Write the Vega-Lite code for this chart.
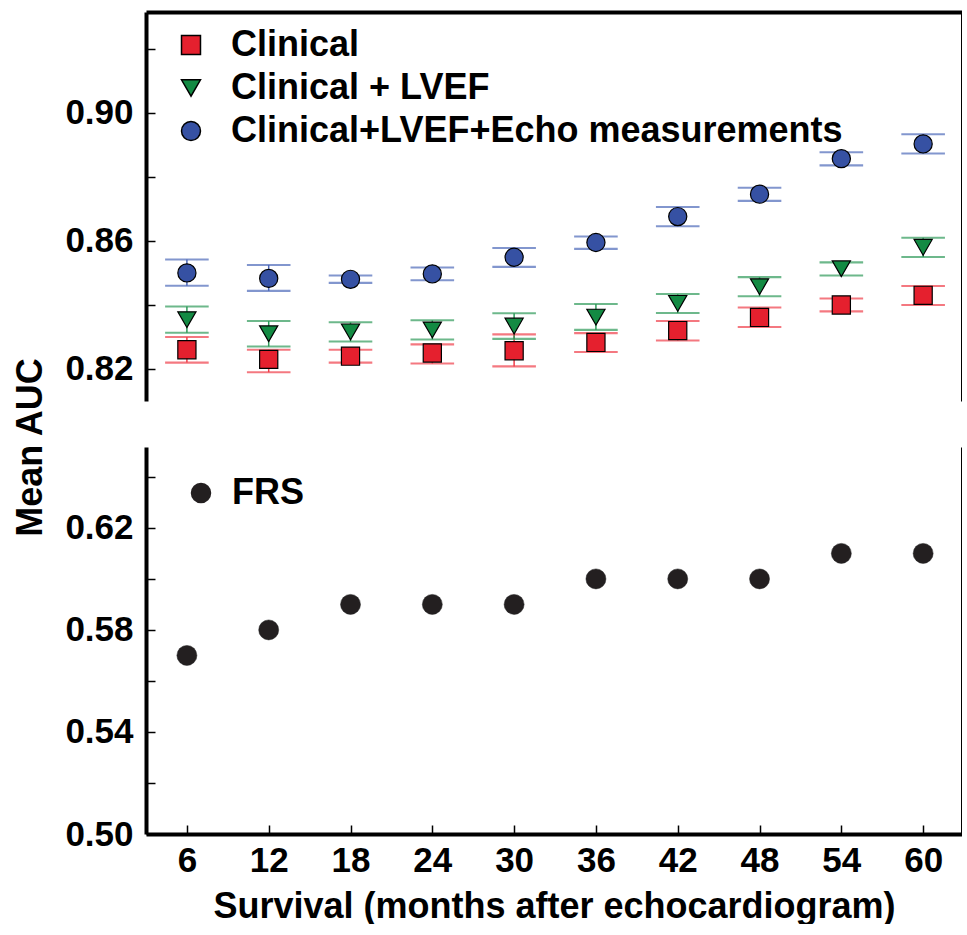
{
  "$schema": "https://vega.github.io/schema/vega-lite/v6.json",
  "background": "white",
  "padding": {"left": 12, "top": 12, "right": 0, "bottom": 0},
  "bounds": "flush",
  "spacing": 46,
  "config": {
    "view": {"stroke": null},
    "font": "Liberation Sans",
    "axis": {
      "grid": false,
      "labelFont": "Liberation Sans", "labelFontWeight": "bold", "labelFontSize": 35, "labelColor": "black",
      "titleFont": "Liberation Sans", "titleFontWeight": "bold", "titleFontSize": 36, "titleColor": "black",
      "domainColor": "black", "tickColor": "black", "tickWidth": 1.5
    },
    "legend": {
      "labelFont": "Liberation Sans", "labelFontWeight": "bold", "labelFontSize": 36, "labelColor": "black",
      "padding": 0, "rowPadding": 7, "labelLimit": 800, "symbolSize": 360
    }
  },
  "resolve": {
    "scale": {"x": "independent", "y": "independent", "fill": "independent", "shape": "independent", "stroke": "independent"},
    "legend": {"fill": "independent", "shape": "independent"}
  },
  "vconcat": [
    {
      "width": 816,
      "height": 389,
      "data": {"values": [
        {"month": 6, "series": "Clinical", "auc": 0.826, "lo": 0.822, "hi": 0.830},
        {"month": 12, "series": "Clinical", "auc": 0.823, "lo": 0.819, "hi": 0.826},
        {"month": 18, "series": "Clinical", "auc": 0.824, "lo": 0.822, "hi": 0.826},
        {"month": 24, "series": "Clinical", "auc": 0.825, "lo": 0.8217, "hi": 0.8277},
        {"month": 30, "series": "Clinical", "auc": 0.8257, "lo": 0.8208, "hi": 0.8308},
        {"month": 36, "series": "Clinical", "auc": 0.8283, "lo": 0.8253, "hi": 0.8312},
        {"month": 42, "series": "Clinical", "auc": 0.832, "lo": 0.8289, "hi": 0.835},
        {"month": 48, "series": "Clinical", "auc": 0.8361, "lo": 0.8331, "hi": 0.8392},
        {"month": 54, "series": "Clinical", "auc": 0.840, "lo": 0.838, "hi": 0.842},
        {"month": 60, "series": "Clinical", "auc": 0.843, "lo": 0.840, "hi": 0.8459},
        {"month": 6, "series": "Clinical + LVEF", "auc": 0.8354, "lo": 0.8313, "hi": 0.8395},
        {"month": 12, "series": "Clinical + LVEF", "auc": 0.831, "lo": 0.827, "hi": 0.835},
        {"month": 18, "series": "Clinical + LVEF", "auc": 0.8316, "lo": 0.8286, "hi": 0.8346},
        {"month": 24, "series": "Clinical + LVEF", "auc": 0.8322, "lo": 0.8292, "hi": 0.8352},
        {"month": 30, "series": "Clinical + LVEF", "auc": 0.8334, "lo": 0.8294, "hi": 0.8374},
        {"month": 36, "series": "Clinical + LVEF", "auc": 0.8362, "lo": 0.8322, "hi": 0.8403},
        {"month": 42, "series": "Clinical + LVEF", "auc": 0.8405, "lo": 0.8375, "hi": 0.8434},
        {"month": 48, "series": "Clinical + LVEF", "auc": 0.8457, "lo": 0.8427, "hi": 0.8487},
        {"month": 54, "series": "Clinical + LVEF", "auc": 0.8513, "lo": 0.8492, "hi": 0.8533},
        {"month": 60, "series": "Clinical + LVEF", "auc": 0.858, "lo": 0.855, "hi": 0.861},
        {"month": 6, "series": "Clinical+LVEF+Echo measurements", "auc": 0.850, "lo": 0.846, "hi": 0.8542},
        {"month": 12, "series": "Clinical+LVEF+Echo measurements", "auc": 0.8483, "lo": 0.8444, "hi": 0.8525},
        {"month": 18, "series": "Clinical+LVEF+Echo measurements", "auc": 0.848, "lo": 0.8469, "hi": 0.8492},
        {"month": 24, "series": "Clinical+LVEF+Echo measurements", "auc": 0.8497, "lo": 0.8477, "hi": 0.8517},
        {"month": 30, "series": "Clinical+LVEF+Echo measurements", "auc": 0.8549, "lo": 0.8519, "hi": 0.8578},
        {"month": 36, "series": "Clinical+LVEF+Echo measurements", "auc": 0.8595, "lo": 0.8575, "hi": 0.8614},
        {"month": 42, "series": "Clinical+LVEF+Echo measurements", "auc": 0.8676, "lo": 0.8646, "hi": 0.8706},
        {"month": 48, "series": "Clinical+LVEF+Echo measurements", "auc": 0.8746, "lo": 0.8725, "hi": 0.8766},
        {"month": 54, "series": "Clinical+LVEF+Echo measurements", "auc": 0.8857, "lo": 0.8836, "hi": 0.8877},
        {"month": 60, "series": "Clinical+LVEF+Echo measurements", "auc": 0.8903, "lo": 0.8873, "hi": 0.8933}
      ]},
      "resolve": {"axis": {"x": "independent", "y": "independent"}},
      "layer": [
        {
          "mark": {"type": "rule", "strokeWidth": 1.5},
          "encoding": {
            "x": {"field": "month", "type": "quantitative",
                  "scale": {"domain": [3, 62.85], "nice": false, "zero": false},
                  "axis": {"orient": "top", "labels": false, "ticks": false, "domainWidth": 4, "title": null}},
            "y": {"field": "lo", "type": "quantitative",
                  "scale": {"domain": [0.81, 0.9315], "nice": false, "zero": false},
                  "axis": {"orient": "right", "labels": false, "ticks": false, "domainWidth": 3, "title": null}},
            "y2": {"field": "hi"},
            "stroke": {"field": "series", "type": "nominal",
                       "scale": {"range": ["#ef3e4a", "#2f9a5a", "#4d69b9"]},
                       "legend": null}
          }
        },
        {
          "mark": {"type": "tick", "orient": "horizontal", "size": 42, "thickness": 0.5, "filled": false, "strokeWidth": 1.6},
          "encoding": {
            "x": {"field": "month", "type": "quantitative", "axis": null},
            "y": {"field": "lo", "type": "quantitative", "axis": null},
            "stroke": {"field": "series", "type": "nominal", "legend": null}
          }
        },
        {
          "mark": {"type": "tick", "orient": "horizontal", "size": 42, "thickness": 0.5, "filled": false, "strokeWidth": 1.6},
          "encoding": {
            "x": {"field": "month", "type": "quantitative", "axis": null},
            "y": {"field": "hi", "type": "quantitative", "axis": null},
            "stroke": {"field": "series", "type": "nominal", "legend": null}
          }
        },
        {
          "mark": {"type": "point", "filled": true, "stroke": "black", "strokeWidth": 1.2, "size": 330, "opacity": 1},
          "encoding": {
            "x": {"field": "month", "type": "quantitative", "axis": null},
            "y": {"field": "auc", "type": "quantitative",
                  "axis": {"orient": "left", "title": null, "domainWidth": 4, "tickSize": -9, "labelPadding": 22,
                           "values": [0.82, 0.84, 0.86, 0.88, 0.90, 0.92],
                           "labelExpr": "(abs(datum.value - 0.82) < 0.001 || abs(datum.value - 0.86) < 0.001 || abs(datum.value - 0.90) < 0.001) ? format(datum.value, '.2f') : ''"}},
            "fill": {"field": "series", "type": "nominal",
                     "scale": {"domain": ["Clinical", "Clinical + LVEF", "Clinical+LVEF+Echo measurements"], "range": ["#e5202e", "#138a43", "#3651a3"]},
                     "legend": {"orient": "none", "legendX": 27, "legendY": 15, "title": null, "labelOffset": 22,
                                "encode": {"symbols": {"stroke": {"value": "black"}, "strokeWidth": {"value": 1.2}}}}},
            "shape": {"field": "series", "type": "nominal",
                      "scale": {"domain": ["Clinical", "Clinical + LVEF", "Clinical+LVEF+Echo measurements"], "range": ["square", "triangle-down", "circle"]},
                      "legend": {"orient": "none", "legendX": 27, "legendY": 15, "title": null, "labelOffset": 22,
                                 "encode": {"symbols": {"stroke": {"value": "black"}, "strokeWidth": {"value": 1.2}}}}}
          }
        }
      ]
    },
    {
      "width": 816,
      "height": 387,
      "data": {"values": [
        {"month": 6, "series": "FRS", "auc": 0.57},
        {"month": 12, "series": "FRS", "auc": 0.58},
        {"month": 18, "series": "FRS", "auc": 0.59},
        {"month": 24, "series": "FRS", "auc": 0.59},
        {"month": 30, "series": "FRS", "auc": 0.59},
        {"month": 36, "series": "FRS", "auc": 0.60},
        {"month": 42, "series": "FRS", "auc": 0.60},
        {"month": 48, "series": "FRS", "auc": 0.60},
        {"month": 54, "series": "FRS", "auc": 0.61},
        {"month": 60, "series": "FRS", "auc": 0.61}
      ]},
      "resolve": {"axis": {"x": "independent", "y": "independent"}},
      "layer": [
        {
          "mark": {"type": "point", "filled": true, "size": 400, "opacity": 1, "stroke": "#222", "strokeWidth": 0.5},
          "encoding": {
            "x": {"field": "month", "type": "quantitative",
                  "scale": {"domain": [3, 62.85], "nice": false, "zero": false},
                  "axis": {"orient": "bottom", "title": "Survival (months after echocardiogram)", "values": [6, 12, 18, 24, 30, 36, 42, 48, 54, 60],
                           "domainWidth": 4, "tickSize": -9, "labelPadding": 18, "titlePadding": 11}},
            "y": {"field": "auc", "type": "quantitative",
                  "scale": {"domain": [0.5, 0.6517], "nice": false, "zero": false},
                  "axis": {"orient": "left", "title": "Mean AUC", "titleY": 0, "titleX": -105, "titleBaseline": "alphabetic",
                           "domainWidth": 4, "tickSize": -9, "labelPadding": 22,
                           "values": [0.50, 0.52, 0.54, 0.56, 0.58, 0.60, 0.62, 0.64],
                           "labelExpr": "(abs(datum.value - 0.52) < 0.001 || abs(datum.value - 0.56) < 0.001 || abs(datum.value - 0.60) < 0.001 || abs(datum.value - 0.64) < 0.001) ? '' : format(datum.value, '.2f')"}},
            "fill": {"field": "series", "type": "nominal",
                     "scale": {"domain": ["FRS"], "range": ["#231f20"]},
                     "legend": {"orient": "none", "legendX": 37, "legendY": 28, "title": null, "labelOffset": 13, "symbolSize": 420, "symbolType": "circle", "symbolStrokeWidth": 0}}
          }
        },
        {
          "mark": {"type": "point", "filled": true, "opacity": 0},
          "encoding": {
            "x": {"field": "month", "type": "quantitative", "axis": null},
            "y": {"field": "auc", "type": "quantitative",
                  "axis": {"orient": "right", "labels": false, "ticks": false, "domainWidth": 3, "title": null}}
          }
        }
      ]
    }
  ]
}
